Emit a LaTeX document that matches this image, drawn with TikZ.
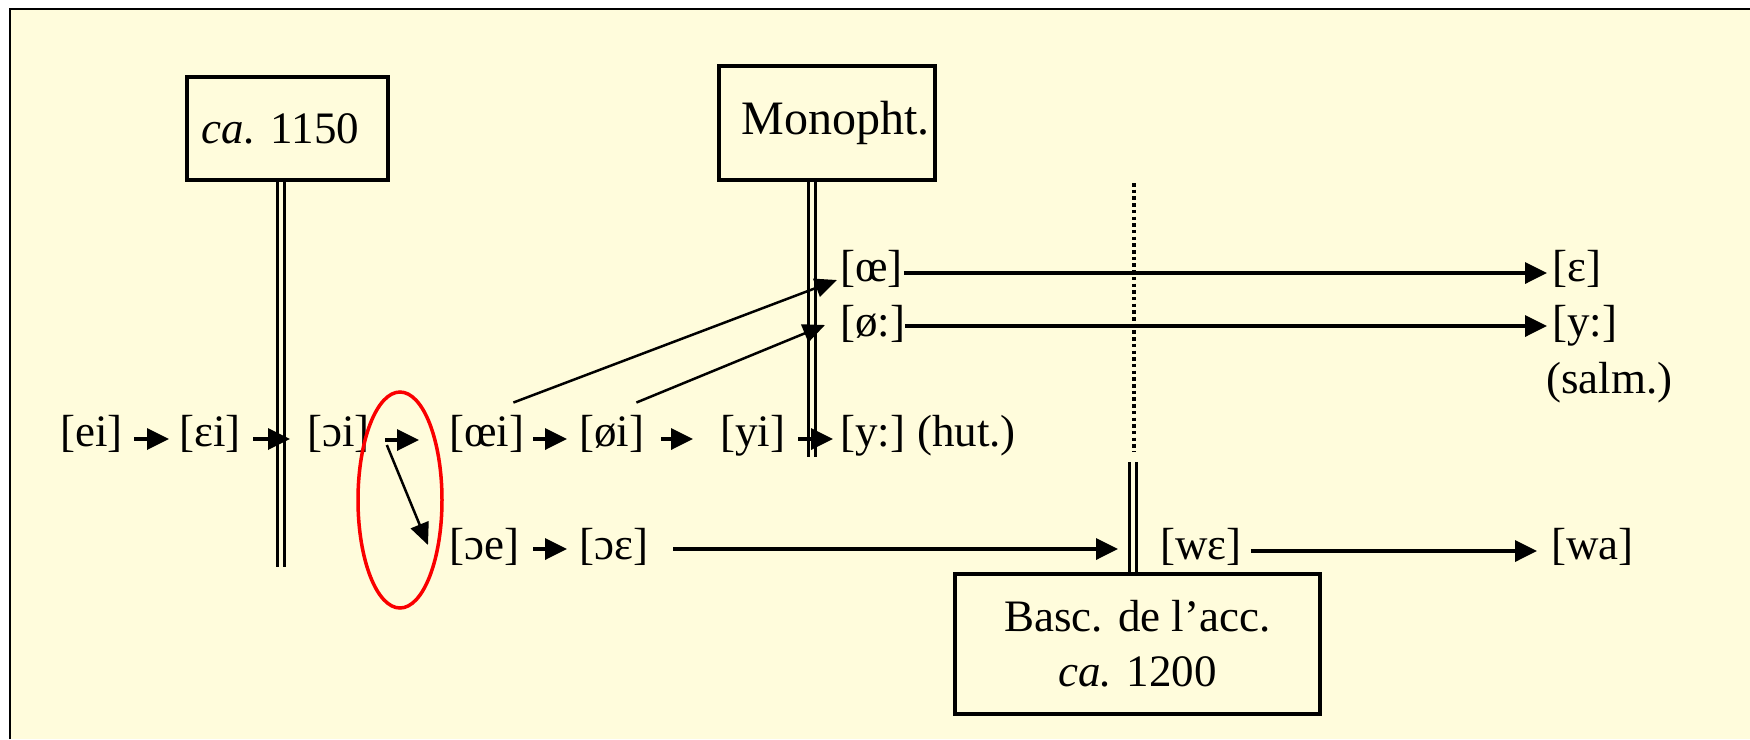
\documentclass[tikz,border=0pt]{standalone}
\usepackage{fontspec}
\setmainfont{Liberation Serif}
\usetikzlibrary{arrows.meta}
\definecolor{bgy}{RGB}{255,252,220}
\definecolor{ellred}{RGB}{250,0,0}
\begin{document}
\begin{tikzpicture}[x=1pt,y=-1pt,
 font=\fontsize{45}{55}\selectfont,
 ipa/.style={inner sep=0pt, text height=31pt, text depth=9.5pt, anchor=west},
 box/.style={draw, line width=3.5pt, inner sep=0pt, align=center},
 arr/.style={line width=3.5pt, -{Triangle[length=22pt,width=21pt]}},
 diag/.style={line width=2.5pt, -{Triangle[length=22pt,width=19pt]}},
 dbl/.style={draw, double=bgy, double distance=3.6pt, line width=3pt},
 dotln/.style={line width=3.5pt, dash pattern=on 3.5pt off 3.2pt}
]
\useasboundingbox (0,0) rectangle (1750,739);
\fill[white] (0,0) rectangle (1750,739);
\fill[bgy] (10,9) rectangle (1750,739);
\draw[line width=2pt] (10,739) -- (10,9) -- (1750,9);

% boxes
\node[box, minimum width=201pt, minimum height=103pt] (b1150) at (287.5,128.5) {\textit{ca.} 1150\hspace*{14pt}};
\node[box, minimum width=216pt, minimum height=114pt, font=\fontsize{48}{55}\selectfont] (mono) at (827,123) {\hspace*{17pt}Monopht.};
\node[box, minimum width=365pt, minimum height=140pt] (basc) at (1137.5,644) {Basc. de l’acc.\\\textit{ca.} 1200};

% row 1
\node[ipa] (ei)  at (60,436)  {[ei]};
\node[ipa] (ei2) at (179,436) {[ɛi]};
\node[ipa] (oi)  at (307,436) {[ɔi]};
\node[ipa] (oei) at (449,436) {[œi]};
\node[ipa] (oi2) at (579,436) {[øi]};
\node[ipa] (yi)  at (720,436) {[yi]};
\node[ipa] (yy)  at (840,436) {[y:]};
\node[ipa] (hut) at (917,436) {(hut.)};
% upper rows
\node[ipa] (oe)  at (840,271)  {[œ]};
\node[ipa] (eps) at (1552,271) {[ɛ]};
\node[ipa] (oo)  at (840,326)  {[ø:]};
\node[ipa] (yy2) at (1552,326) {[y:]};
\node[ipa] (salm) at (1546,383) {(salm.)};
% row 2
\node[ipa] (oe2)  at (449,549)  {[ɔe]};
\node[ipa] (oeps) at (579,549)  {[ɔɛ]};
\node[ipa] (we)   at (1160,549) {[wɛ]};
\node[ipa] (wa)   at (1551,549) {[wa]};

% vertical lines
\coordinate (l1end) at (281,567);
\coordinate (l2end) at (812,457);
\coordinate (l3top) at (1133,462);
\coordinate (dtop) at (1134,183);
\coordinate (dbot) at (1134,452);
\draw[dbl] (b1150.south -| l1end) -- (l1end);
\draw[dbl] (mono.south -| l2end) -- (l2end);
\draw[dbl] (l3top) -- (basc.north -| l3top);
\draw[dotln] (dtop) -- (dbot);

% arrows row 1
\draw[arr, shorten <=11.5pt, shorten >=10pt] ([yshift=-3pt]ei.east) -- ([yshift=-3pt]ei2.west);
\draw[arr, shorten <=12.5pt, shorten >=17pt] ([yshift=-3pt]ei2.east) -- ([yshift=-3pt]oi.west);
\draw[arr, shorten <=15.5pt, shorten >=30pt] ([yshift=-4pt]oi.east) -- ([yshift=-4pt]oei.west);
\draw[arr, shorten <=9pt, shorten >=12pt] ([yshift=-3pt]oei.east) -- ([yshift=-3pt]oi2.west);
\draw[arr, shorten <=17pt, shorten >=27pt] ([yshift=-3pt]oi2.east) -- ([yshift=-3pt]yi.west);
\draw[arr, shorten <=13pt, shorten >=7pt] ([yshift=-3pt]yi.east) -- ([yshift=-3pt]yy.west);
% upper rows
\draw[arr, shorten <=1pt, shorten >=5pt] ([yshift=-2pt]oe.east) -- ([yshift=-2pt]eps.west);
\draw[arr, shorten <=0pt, shorten >=5pt] (oo.east) -- (yy2.west);
% row 2
\draw[arr, shorten <=14pt, shorten >=12pt] (oe2.east) -- (oeps.west);
\draw[arr, shorten <=25pt, shorten >=42pt] (oeps.east) -- (we.west);
\draw[arr, shorten <=9pt, shorten >=14pt] ([yshift=-2pt]we.east) -- ([yshift=-2pt]wa.west);
% diagonals
\draw[diag] ([xshift=-11pt,yshift=13pt]oei.north east) -- ([xshift=-3pt,yshift=-9pt]oe.west);
\draw[diag] ([xshift=-8pt,yshift=13pt]oi2.north east) -- ([xshift=-15pt,yshift=1pt]oo.west);
\draw[diag] ([xshift=17pt,yshift=-9pt]oi.east) -- ([xshift=-21pt,yshift=4pt]oe2.west);

% red ellipse
\draw[ellred, line width=3.5pt] (400,500) ellipse [x radius=42, y radius=108];
\end{tikzpicture}
\end{document}
